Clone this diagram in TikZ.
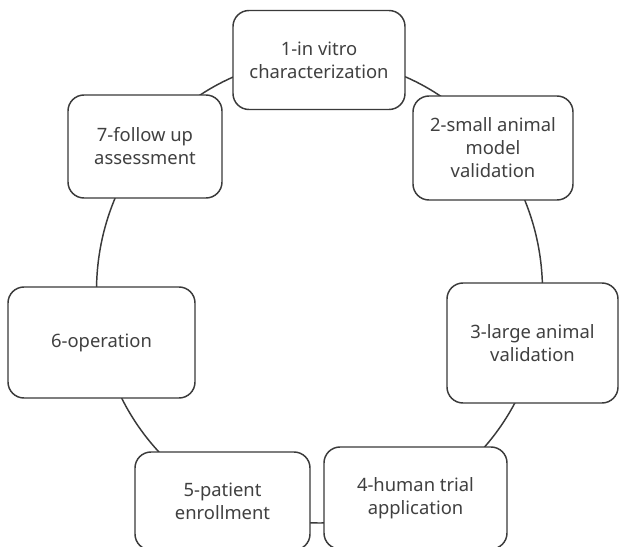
\documentclass[tikz,border=0pt]{standalone}
\usepackage{fontspec}
\setmainfont{Noto Sans}
\begin{document}
\begin{tikzpicture}[x=0.75pt,y=-0.75pt,
  stagebox/.style={draw=linegray, line width=1.1pt, rounded corners=12pt, fill=white,
    align=center, text=textgray, font=\fontsize{13.8pt}{17.2pt}\selectfont, inner sep=0pt},
  ring/.style={draw=linegray, line width=1.1pt}]
\definecolor{linegray}{HTML}{3A3A3A}
\definecolor{textgray}{HTML}{404040}
\useasboundingbox (0,0) rectangle (620,546);
\fill[white] (0,0) rectangle (620,546);
\clip (0,0) rectangle (620,546);
\coordinate (c) at (319.5,291);
\draw[ring] (c) ellipse [x radius=167.25pt, y radius=174pt];
\node[stagebox, minimum width=129pt, minimum height=74.25pt] (n1) at (319,60) {1-in vitro\\characterization};
\node[stagebox, minimum width=120pt, minimum height=78pt] (n2) at (493,148) {2-small animal\\model\\validation};
\node[stagebox, minimum width=128.25pt, minimum height=90pt] (n3) at (532.5,343) {3-large animal\\validation};
\node[stagebox, minimum width=137.25pt, minimum height=76.5pt] (n4) at (415.5,498) {4-human trial\\application};
\node[stagebox, minimum width=131.25pt, minimum height=73.5pt] (n5) at (222.5,501) {5-patient\\enrollment};
\node[stagebox, minimum width=140.25pt, minimum height=83.25pt] (n6) at (101.5,342.5) {6-operation};
\node[stagebox, minimum width=115.5pt, minimum height=77.25pt] (n7) at (145,146.5) {7-follow up\\assessment};
\end{tikzpicture}
\end{document}
